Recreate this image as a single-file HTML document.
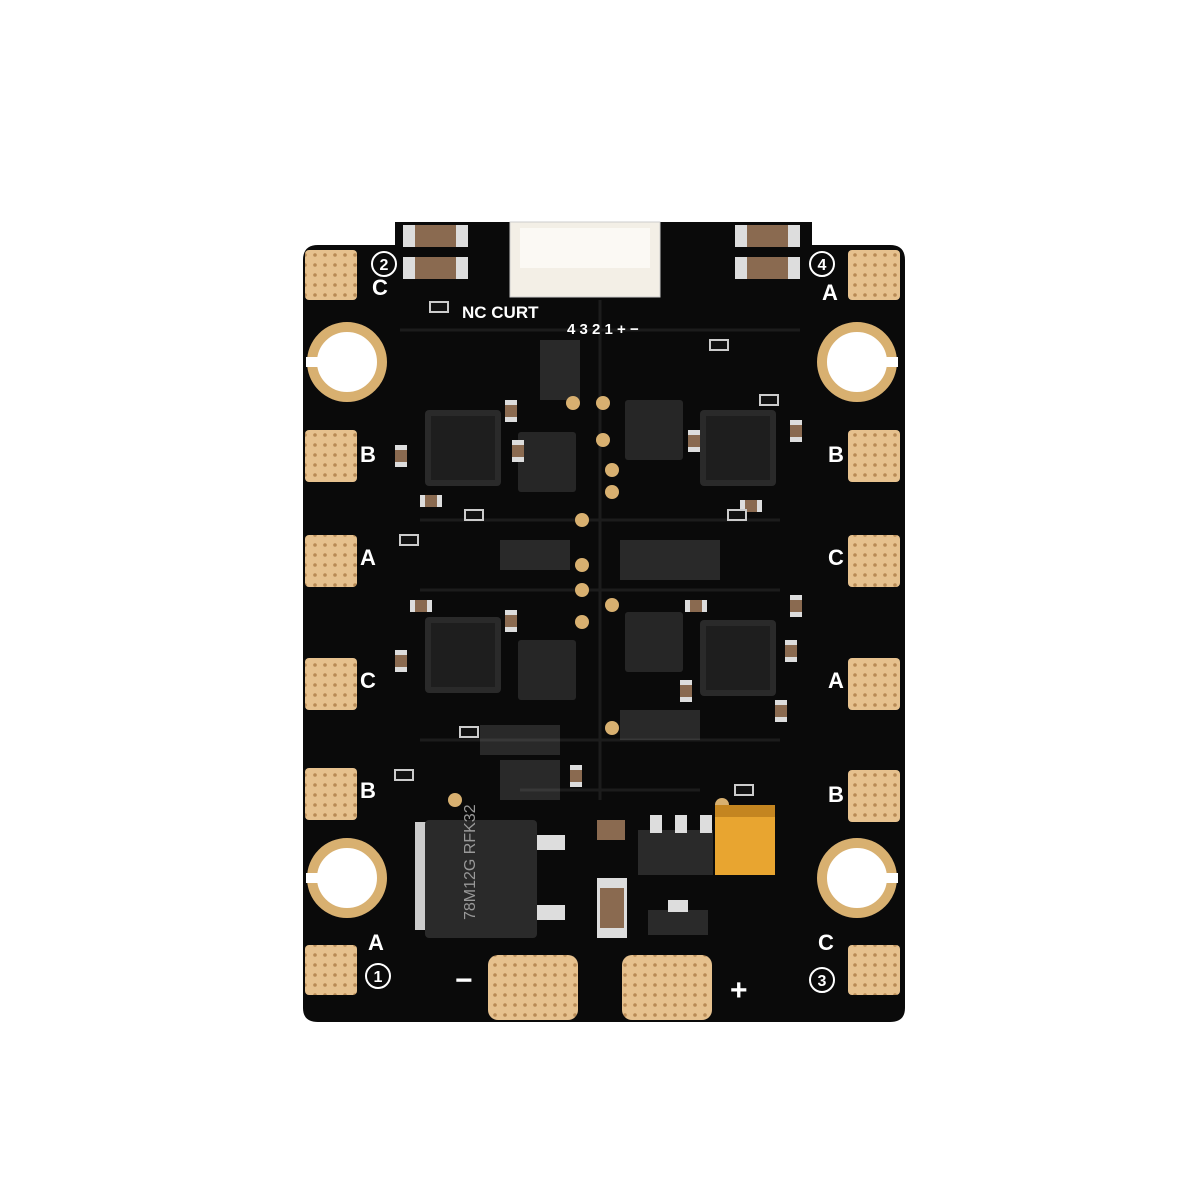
<!DOCTYPE html>
<html><head><meta charset="utf-8"><style>
html,body{margin:0;padding:0;background:#fff;width:1200px;height:1200px;overflow:hidden}
svg{display:block}
text{font-family:"Liberation Sans",sans-serif}
</style></head><body>
<svg width="1200" height="1200" viewBox="0 0 1200 1200" xmlns="http://www.w3.org/2000/svg">
<defs>
<pattern id="dots" width="10" height="10" patternUnits="userSpaceOnUse">
<rect width="10" height="10" fill="#e6c18e"/><circle cx="5" cy="5" r="1.8" fill="#b88a55"/>
</pattern>
<g id="qfn"><rect width="76" height="76" rx="4" fill="#2a2a2a"/><rect x="6" y="6" width="64" height="64" fill="#1e1e1e"/></g>
<g id="qfs"><rect width="58" height="60" rx="3" fill="#262626"/></g>
<g id="cap"><rect width="22" height="12" fill="#8a6a50"/><rect width="5" height="12" fill="#ddd"/><rect x="17" width="5" height="12" fill="#ddd"/></g>
<g id="capv"><rect width="12" height="22" fill="#8a6a50"/><rect width="12" height="5" fill="#ddd"/><rect y="17" width="12" height="5" fill="#ddd"/></g>
<g id="res"><rect width="18" height="10" fill="#111" stroke="#ccc" stroke-width="2"/></g>
</defs>
<rect width="1200" height="1200" fill="#fff"/>
<path d="M318 245 H395 V222 H812 V245 H890 Q905 245 905 260 V1008 Q905 1022 890 1022 H318 Q303 1022 303 1008 V260 Q303 245 318 245Z" fill="#0a0a0a"/>
<g stroke="#1c1c1c" stroke-width="3" fill="none">
<path d="M400 330 H800 M420 520 H780 M420 590 H780 M420 740 H780 M520 790 H700 M600 300 V800"/>
</g>
<g fill="url(#dots)">
<rect x="305" y="250" width="52" height="50" rx="4"/><rect x="305" y="430" width="52" height="52" rx="4"/>
<rect x="305" y="535" width="52" height="52" rx="4"/><rect x="305" y="658" width="52" height="52" rx="4"/>
<rect x="305" y="768" width="52" height="52" rx="4"/><rect x="305" y="945" width="52" height="50" rx="4"/>
<rect x="848" y="250" width="52" height="50" rx="4"/><rect x="848" y="430" width="52" height="52" rx="4"/>
<rect x="848" y="535" width="52" height="52" rx="4"/><rect x="848" y="658" width="52" height="52" rx="4"/>
<rect x="848" y="770" width="52" height="52" rx="4"/><rect x="848" y="945" width="52" height="50" rx="4"/>
<rect x="488" y="955" width="90" height="65" rx="10"/><rect x="622" y="955" width="90" height="65" rx="10"/>
</g>
<g fill="#fff" stroke="#d8b070" stroke-width="10">
<circle cx="347" cy="362" r="35"/><circle cx="857" cy="362" r="35"/>
<circle cx="347" cy="878" r="35"/><circle cx="857" cy="878" r="35"/>
</g>
<g fill="#fff"><rect x="306" y="357" width="14" height="10"/><rect x="884" y="357" width="14" height="10"/><rect x="306" y="873" width="14" height="10"/><rect x="884" y="873" width="14" height="10"/></g>
<g fill="#fff" font-weight="bold" font-size="22">
<text x="372" y="295">C</text><text x="360" y="462">B</text><text x="360" y="565">A</text>
<text x="360" y="688">C</text><text x="360" y="798">B</text><text x="368" y="950">A</text>
<text x="822" y="300">A</text><text x="828" y="462">B</text><text x="828" y="565">C</text>
<text x="828" y="688">A</text><text x="828" y="802">B</text><text x="818" y="950">C</text>
<text x="455" y="990" font-size="30">−</text><text x="730" y="1000" font-size="30">+</text>
<text x="462" y="318" font-size="17">NC CURT</text>
<text x="567" y="334" font-size="15">4 3 2 1 + −</text>
</g>
<g fill="none" stroke="#fff" stroke-width="2"><circle cx="384" cy="264" r="12"/><circle cx="822" cy="264" r="12"/><circle cx="378" cy="976" r="12"/><circle cx="822" cy="980" r="12"/></g>
<g fill="#fff" font-size="16" font-weight="bold" text-anchor="middle"><text x="384" y="270">2</text><text x="822" y="270">4</text><text x="378" y="982">1</text><text x="822" y="986">3</text></g>
<rect x="510" y="222" width="150" height="75" fill="#f3efe6" stroke="#ccc"/>
<rect x="520" y="228" width="130" height="40" fill="#fbf9f4"/>
<g fill="#8a6a50"><rect x="403" y="225" width="65" height="22"/><rect x="403" y="257" width="65" height="22"/><rect x="735" y="225" width="65" height="22"/><rect x="735" y="257" width="65" height="22"/></g>
<g fill="#ddd"><rect x="403" y="225" width="12" height="22"/><rect x="456" y="225" width="12" height="22"/><rect x="403" y="257" width="12" height="22"/><rect x="456" y="257" width="12" height="22"/><rect x="735" y="225" width="12" height="22"/><rect x="788" y="225" width="12" height="22"/><rect x="735" y="257" width="12" height="22"/><rect x="788" y="257" width="12" height="22"/></g>
<use href="#qfn" x="425" y="410"/><use href="#qfs" x="518" y="432"/><use href="#qfs" x="625" y="400"/><use href="#qfn" x="700" y="410"/>
<use href="#qfn" x="425" y="617"/><use href="#qfs" x="518" y="640"/><use href="#qfs" x="625" y="612"/><use href="#qfn" x="700" y="620"/>
<g>
<use href="#cap" x="420" y="495"/><use href="#cap" x="740" y="500"/><use href="#cap" x="410" y="600"/><use href="#cap" x="685" y="600"/>
<use href="#capv" x="395" y="445"/><use href="#capv" x="505" y="400"/><use href="#capv" x="790" y="420"/><use href="#capv" x="688" y="430"/>
<use href="#capv" x="395" y="650"/><use href="#capv" x="505" y="610"/><use href="#capv" x="790" y="595"/><use href="#capv" x="785" y="640"/>
<use href="#capv" x="680" y="680"/><use href="#capv" x="570" y="765"/><use href="#capv" x="775" y="700"/><use href="#capv" x="512" y="440"/>
<use href="#res" x="430" y="302"/><use href="#res" x="465" y="510"/><use href="#res" x="400" y="535"/><use href="#res" x="728" y="510"/><use href="#res" x="710" y="340"/><use href="#res" x="760" y="395"/>
<use href="#res" x="735" y="785"/><use href="#res" x="395" y="770"/><use href="#res" x="460" y="727"/>
</g>
<g fill="#ddd">
<rect x="540" y="340" width="40" height="60" opacity=".15"/><rect x="500" y="540" width="70" height="30" opacity=".15"/><rect x="620" y="540" width="100" height="40" opacity=".15"/>
<rect x="480" y="725" width="80" height="30" opacity=".15"/><rect x="620" y="710" width="80" height="30" opacity=".15"/><rect x="500" y="760" width="60" height="40" opacity=".15"/>
</g>
<g fill="#d8b070"><circle cx="573" cy="403" r="7"/><circle cx="603" cy="403" r="7"/><circle cx="603" cy="440" r="7"/><circle cx="612" cy="470" r="7"/><circle cx="612" cy="492" r="7"/><circle cx="582" cy="520" r="7"/><circle cx="582" cy="565" r="7"/><circle cx="582" cy="590" r="7"/><circle cx="582" cy="622" r="7"/><circle cx="612" cy="605" r="7"/><circle cx="612" cy="728" r="7"/><circle cx="455" cy="800" r="7"/><circle cx="722" cy="805" r="7"/></g>
<rect x="535" y="835" width="30" height="15" fill="#ddd"/><rect x="535" y="905" width="30" height="15" fill="#ddd"/>
<rect x="415" y="822" width="18" height="108" fill="#ccc"/>
<rect x="425" y="820" width="112" height="118" rx="4" fill="#2a2a2a"/>
<text x="475" y="920" fill="#999" font-size="16" transform="rotate(-90 475 920)">78M12G RFK32</text>
<rect x="638" y="830" width="75" height="45" fill="#2a2a2a"/>
<rect x="597" y="820" width="28" height="20" fill="#8a6a50"/><rect x="597" y="878" width="30" height="60" fill="#ddd"/><rect x="600" y="888" width="24" height="40" fill="#8a6a50"/>
<rect x="648" y="910" width="60" height="25" fill="#2a2a2a"/><rect x="668" y="900" width="20" height="12" fill="#ddd"/>
<rect x="650" y="815" width="12" height="18" fill="#ddd"/><rect x="675" y="815" width="12" height="18" fill="#ddd"/><rect x="700" y="815" width="12" height="18" fill="#ddd"/>
<rect x="715" y="805" width="60" height="70" fill="#e8a530"/><rect x="715" y="805" width="60" height="12" fill="#c48520"/>
</svg>
</body></html>
